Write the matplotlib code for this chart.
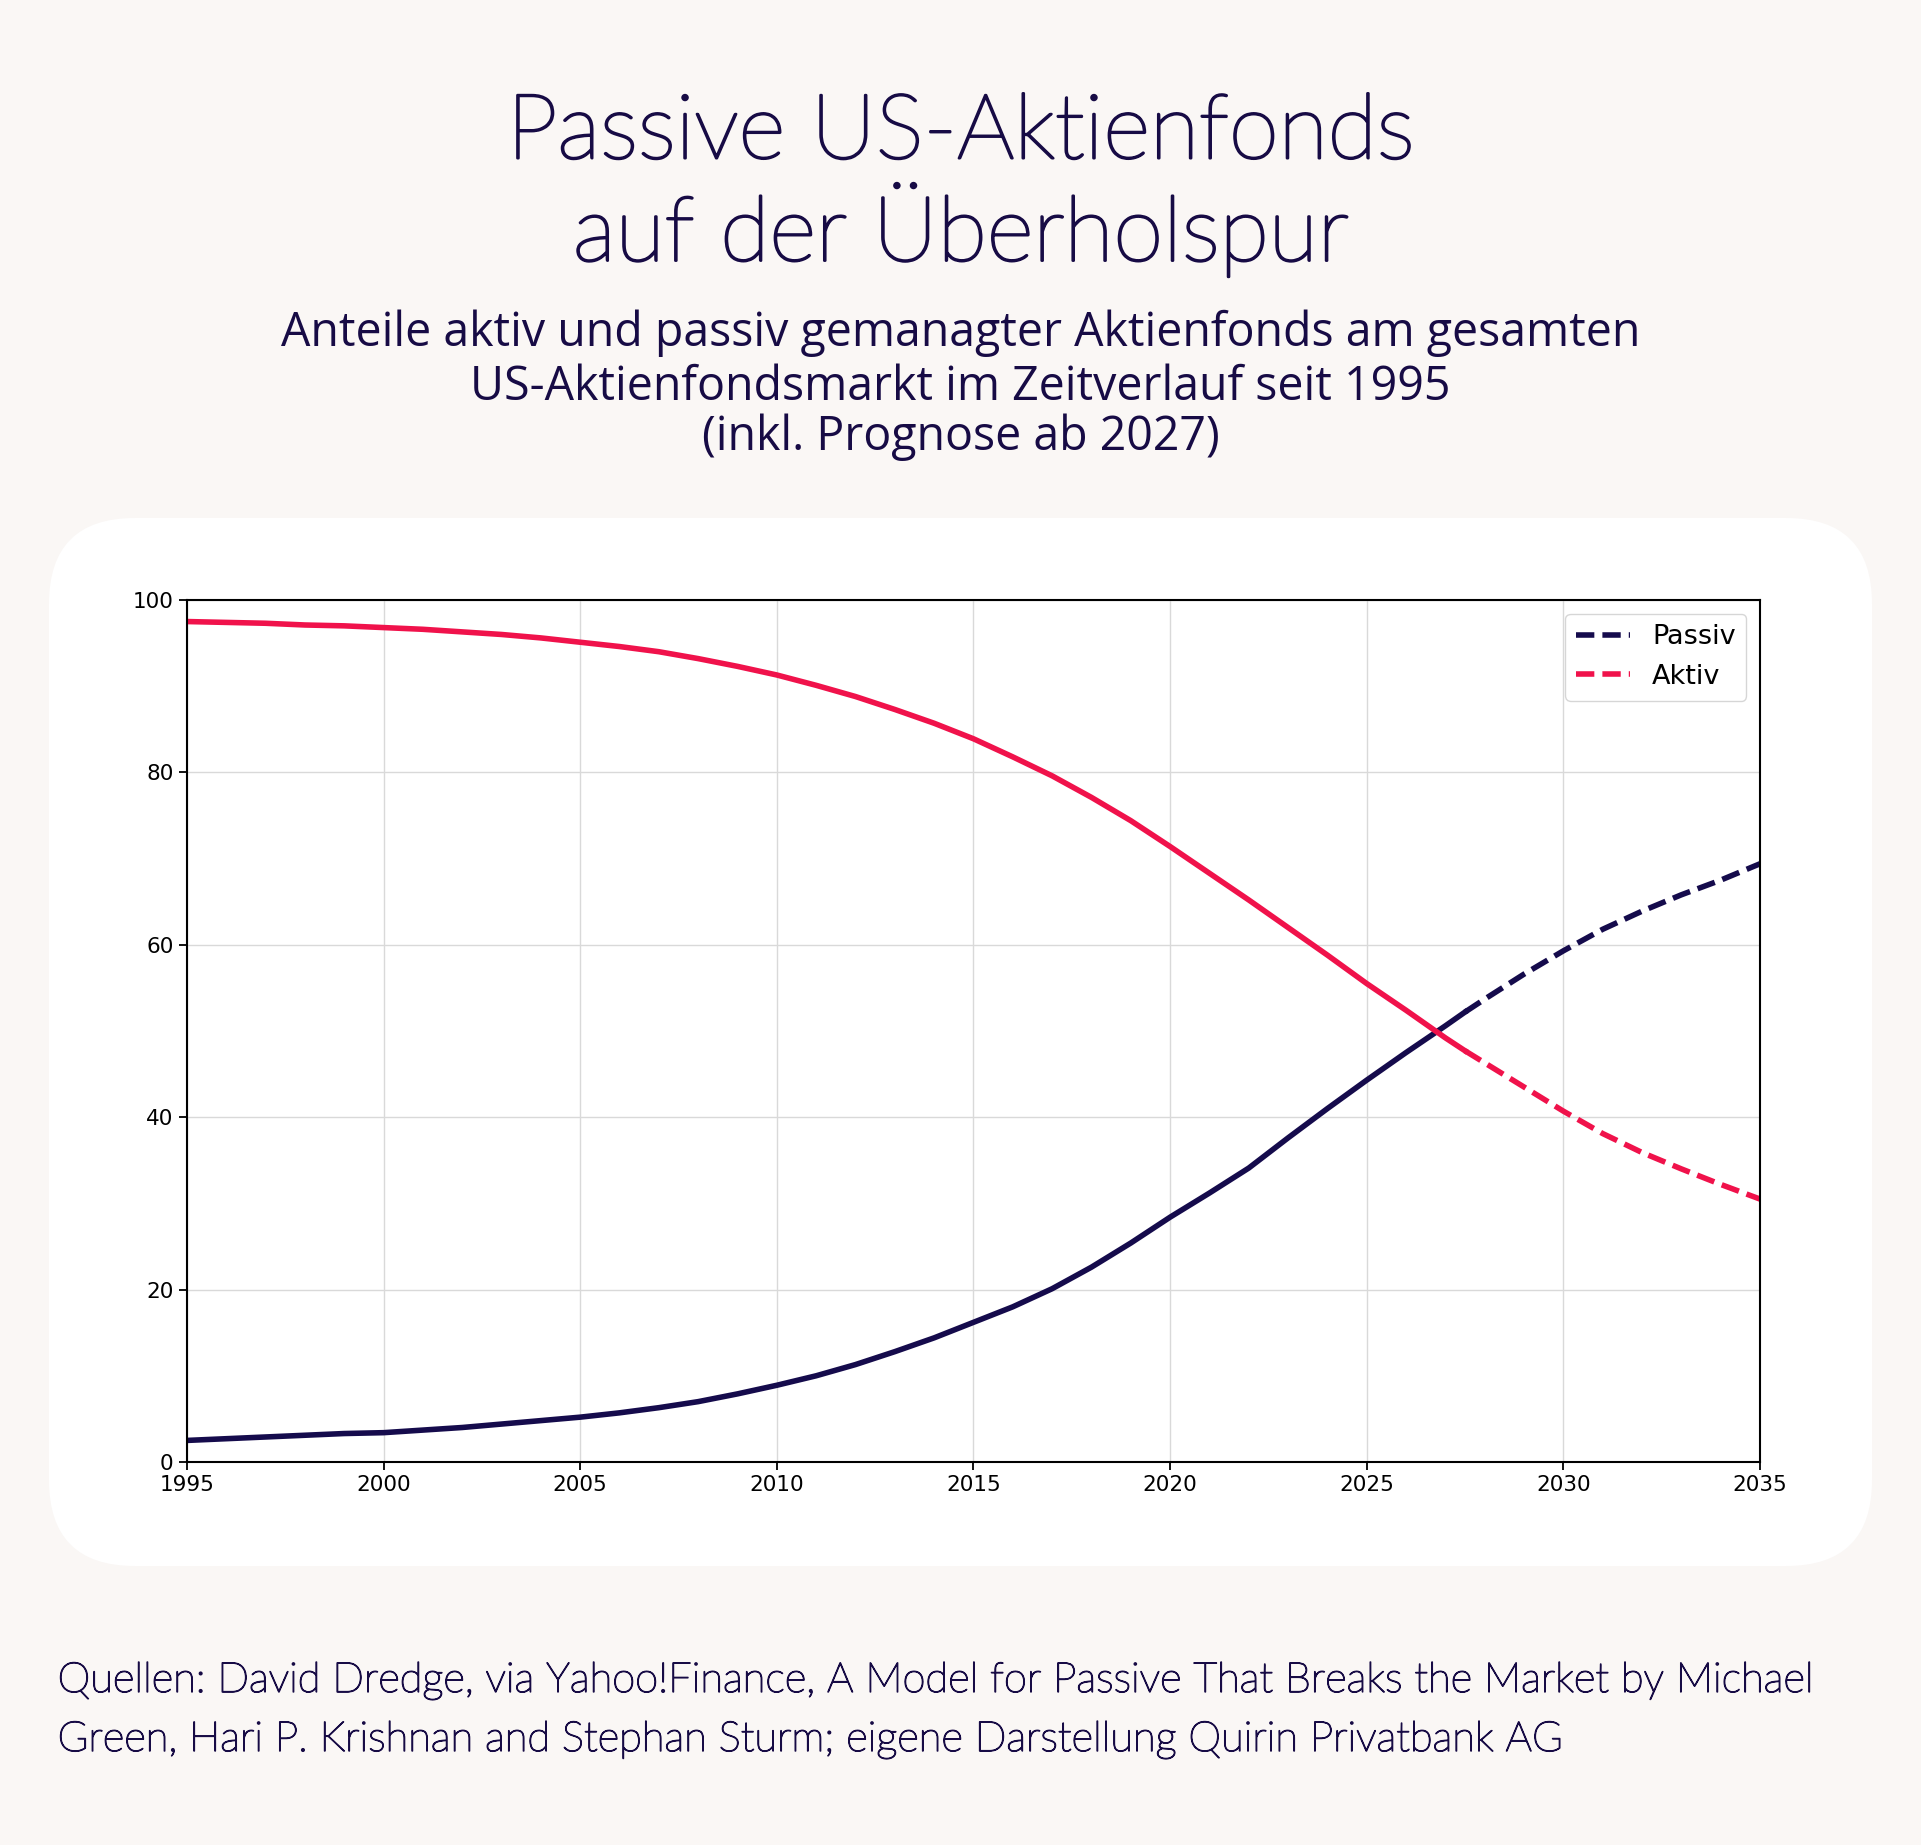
import matplotlib
matplotlib.use("Agg")
import matplotlib.pyplot as plt
import matplotlib.patheffects as pe
from matplotlib.patches import FancyBboxPatch

# data (share of US equity fund market, %)
years = [1995, 1996, 1997, 1998, 1999, 2000, 2001, 2002, 2003, 2004,
         2005, 2006, 2007, 2008, 2009, 2010, 2011, 2012, 2013, 2014,
         2015, 2016, 2017, 2018, 2019, 2020, 2021, 2022, 2023, 2024,
         2025, 2026, 2027, 2027.5, 2028, 2029, 2030, 2031, 2032, 2033,
         2034, 2035]
passiv = [2.5, 2.7, 2.9, 3.1, 3.3, 3.4, 3.7, 4.0, 4.4, 4.8,
          5.2, 5.7, 6.3, 7.0, 7.9, 8.9, 10.0, 11.3, 12.8, 14.4,
          16.2, 18.0, 20.1, 22.6, 25.4, 28.4, 31.2, 34.1, 37.6, 41.0,
          44.3, 47.5, 50.6, 52.2, 53.7, 56.6, 59.3, 61.8, 63.9, 65.8,
          67.5, 69.4]
aktiv = [97.5, 97.4, 97.3, 97.1, 97.0, 96.8, 96.6, 96.3, 96.0, 95.6,
         95.1, 94.6, 94.0, 93.2, 92.3, 91.3, 90.1, 88.8, 87.3, 85.7,
         83.9, 81.8, 79.6, 77.1, 74.4, 71.4, 68.3, 65.2, 62.0, 58.8,
         55.5, 52.4, 49.2, 47.7, 46.3, 43.5, 40.7, 38.1, 35.9, 34.0,
         32.2, 30.5]
forecast_start = 2027.5

x_ticks = [1995, 2000, 2005, 2010, 2015, 2020, 2025, 2030, 2035]
y_ticks = [0, 20, 40, 60, 80, 100]

title = ["Passive US-Aktienfonds", "auf der Überholspur"]
subtitle = ["Anteile aktiv und passiv gemanagter Aktienfonds am gesamten",
            "US-Aktienfondsmarkt im Zeitverlauf seit 1995",
            "(inkl. Prognose ab 2027)"]
source = ["Quellen: David Dredge, via Yahoo!Finance, A Model for Passive That Breaks the Market by Michael",
          "Green, Hari P. Krishnan and Stephan Sturm; eigene Darstellung Quirin Privatbank AG"]

navy = "#150b4c"
text_col = "#170b45"
red = "#f0124b"
bg = "#faf7f5"

fig = plt.figure(figsize=(19.21, 18.45), dpi=100, facecolor=bg)

# white rounded card behind the chart
card = FancyBboxPatch((0.49, 2.79), 18.23, 10.48,
                      boxstyle="round,pad=0,rounding_size=0.86",
                      transform=fig.dpi_scale_trans, facecolor="white",
                      edgecolor="none", zorder=-10)
fig.patches.append(card)

# titles (light weight, thickened a little with a stroke)
for line, y in zip(title, [0.9275, 0.8755]):
    fig.text(0.5, y, line, ha="center", va="center",
             fontsize=65, family="Lato", weight="light", color=text_col,
             path_effects=[pe.withStroke(linewidth=1.8, foreground=text_col)])
for line, y in zip(subtitle, [0.8195, 0.7902, 0.7631]):
    fig.text(0.5, y, line, ha="center", va="center", fontsize=33.5,
             family="Open Sans", color=text_col)
for line, y in zip(source, [0.0889, 0.0569]):
    fig.text(0.030, y, line, ha="left", va="center", fontsize=30,
             family="Lato", weight="light", color=text_col,
             path_effects=[pe.withStroke(linewidth=1.0, foreground=text_col)])

ax = fig.add_axes([0.0973, 0.2076, 0.9162 - 0.0973, 0.6748 - 0.2076])
ax.set_facecolor("white")

split = years.index(forecast_start)
lw = 4.0
dash = (3.3, 1.45)
ax.plot(years[:split + 1], passiv[:split + 1], color=navy, lw=lw)
ax.plot(years[:split + 1], aktiv[:split + 1], color=red, lw=lw)
ax.plot(years[split:], passiv[split:], color=navy, lw=lw, ls="--",
        dashes=dash, label="Passiv")
ax.plot(years[split:], aktiv[split:], color=red, lw=lw, ls="--",
        dashes=dash, label="Aktiv")

ax.set_xlim(1995, 2035)
ax.set_ylim(0, 100)
ax.set_xticks(x_ticks)
ax.set_yticks(y_ticks)
ax.tick_params(labelsize=15.5, length=6, width=1.3)
ax.grid(True, color="#d9d9d9", lw=1.0)
for s in ax.spines.values():
    s.set_linewidth(1.5)

ax.legend(loc="upper right", fontsize=19.5)

fig.savefig("out.png", dpi=100, facecolor=bg)
